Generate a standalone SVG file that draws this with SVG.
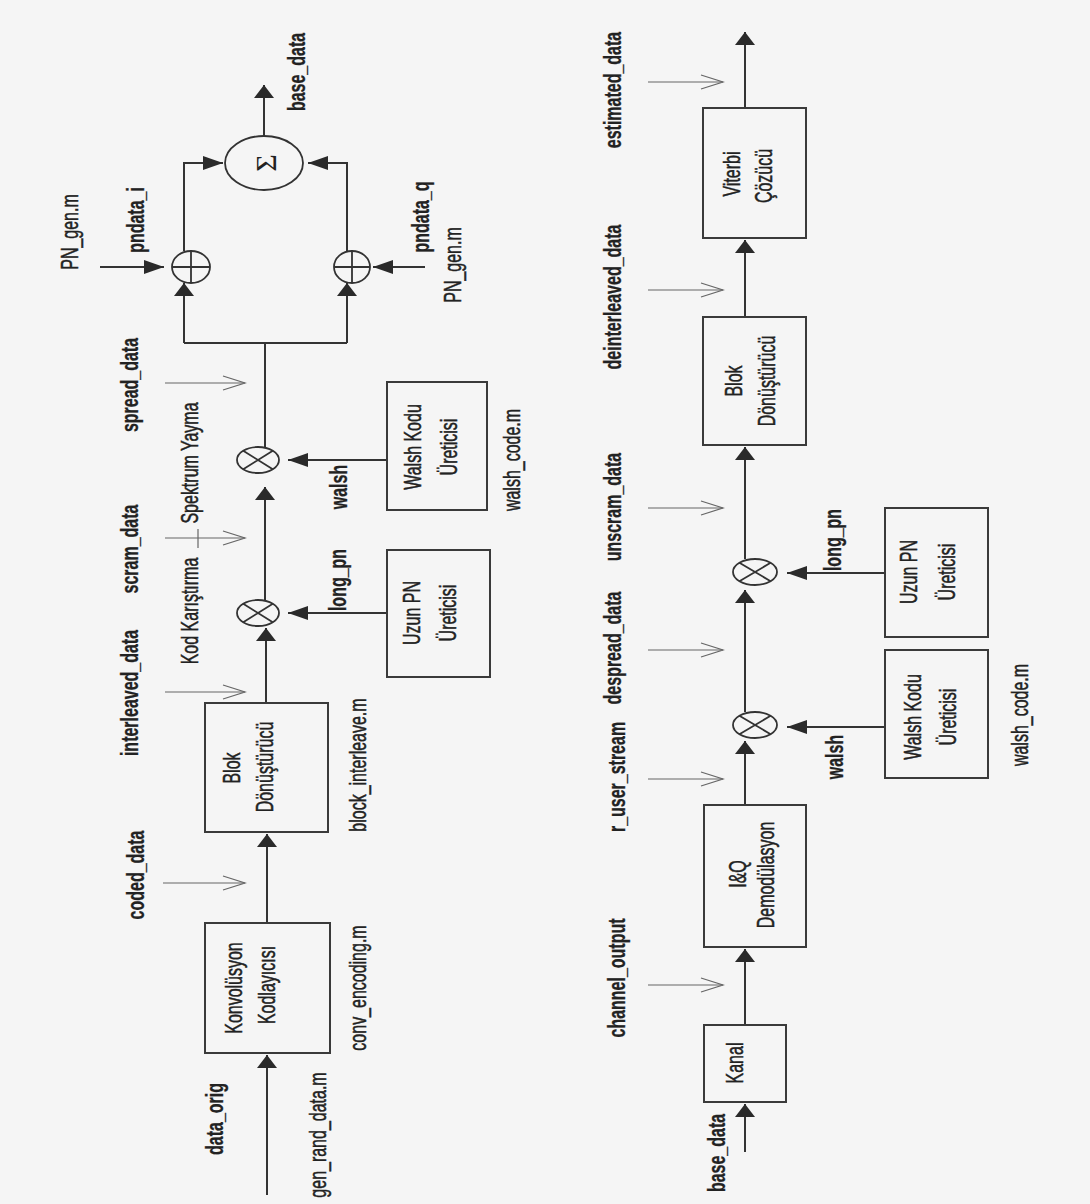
<svg xmlns="http://www.w3.org/2000/svg" width="1090" height="1204" viewBox="0 0 1090 1204">
<defs>
<style>
.bg{fill:#f5f5f5}
.box{fill:none;stroke:#3a3a3a;stroke-width:2}
.op{fill:none;stroke:#333;stroke-width:1.8}
.ln{fill:none;stroke:#333;stroke-width:2}
.sig{fill:none;stroke:#666;stroke-width:1.2}
.t{font-family:"Liberation Sans",Arial,sans-serif;font-size:16px;fill:#222;stroke:#222;stroke-width:0.35;text-anchor:middle;dominant-baseline:central}
.b{font-weight:bold;stroke-width:0.2}
.sym{font-family:"Liberation Serif","Times New Roman",serif;font-size:30px;fill:#222;text-anchor:middle;dominant-baseline:central}
</style>
<marker id="arrV" markerUnits="userSpaceOnUse" markerWidth="14" markerHeight="21" refX="13" refY="10" orient="auto" overflow="visible">
<path d="M0,0 L13,10 L0,20 Z" fill="#2a2a2a"/>
</marker>
<marker id="arrH" markerUnits="userSpaceOnUse" markerWidth="21" markerHeight="15" refX="20" refY="7" orient="auto" overflow="visible">
<path d="M0,0 L20,7 L0,14 Z" fill="#2a2a2a"/>
</marker>
<marker id="chev" markerUnits="userSpaceOnUse" markerWidth="23" markerHeight="15" refX="22" refY="7" orient="auto" overflow="visible">
<path d="M0,0 L22,7 L0,14" fill="none" stroke="#666" stroke-width="1.2"/>
</marker>
</defs>
<rect class="bg" x="0" y="0" width="1090" height="1204"/>

<g id="connectors">
<path class="ln" d="M267,1195 V1055" marker-end="url(#arrV)"/>
<path class="ln" d="M267,923 V834" marker-end="url(#arrV)"/>
<path class="ln" d="M266,703 V628" marker-end="url(#arrV)"/>
<path class="ln" d="M265,600 V487" marker-end="url(#arrV)"/>
<path class="ln" d="M265,447 V343"/>
<path class="ln" d="M184,343 H347"/>
<path class="ln" d="M184,343 V283" marker-end="url(#arrV)"/>
<path class="ln" d="M347,343 V283" marker-end="url(#arrV)"/>
<path class="ln" d="M184,251 V163 H223" marker-end="url(#arrH)"/>
<path class="ln" d="M347,251 V163 H308" marker-end="url(#arrH)"/>
<path class="ln" d="M264,136 V85" marker-end="url(#arrV)"/>
<path class="ln" d="M100,267 H164" marker-end="url(#arrH)"/>
<path class="ln" d="M425,267 H373" marker-end="url(#arrH)"/>
<path class="ln" d="M387,460 H288" marker-end="url(#arrH)"/>
<path class="ln" d="M387,613 H288" marker-end="url(#arrH)"/>
<path class="ln" d="M745,1152 V1104" marker-end="url(#arrV)"/>
<path class="ln" d="M745,1025 V949" marker-end="url(#arrV)"/>
<path class="ln" d="M745,805 V741" marker-end="url(#arrV)"/>
<path class="ln" d="M745,712 V590" marker-end="url(#arrV)"/>
<path class="ln" d="M745,559 V447" marker-end="url(#arrV)"/>
<path class="ln" d="M745,317 V240" marker-end="url(#arrV)"/>
<path class="ln" d="M745,108 V32" marker-end="url(#arrV)"/>
<path class="ln" d="M885,573 H787" marker-end="url(#arrH)"/>
<path class="ln" d="M885,727 H787" marker-end="url(#arrH)"/>
<path class="sig" d="M163,883 H245" marker-end="url(#chev)"/>
<path class="sig" d="M165,692 H245" marker-end="url(#chev)"/>
<path class="sig" d="M165,538 H245" marker-end="url(#chev)"/>
<path class="sig" d="M165,383 H245" marker-end="url(#chev)"/>
<path class="sig" d="M198,529 V548"/>
<path class="sig" d="M648,82 H723" marker-end="url(#chev)"/>
<path class="sig" d="M648,290 H723" marker-end="url(#chev)"/>
<path class="sig" d="M648,508 H723" marker-end="url(#chev)"/>
<path class="sig" d="M648,650 H723" marker-end="url(#chev)"/>
<path class="sig" d="M648,779 H723" marker-end="url(#chev)"/>
<path class="sig" d="M648,985 H723" marker-end="url(#chev)"/>
</g>

<g id="konv">
<rect class="box" x="205" y="923" width="125" height="130"/>
<text class="t" transform="translate(234,988) rotate(-90) scale(1,1.45)">Konvolüsyon</text>
<text class="t" transform="translate(267,985) rotate(-90) scale(1,1.45)">Kodlayıcısı</text>
</g>
<g id="blok1">
<rect class="box" x="205" y="703" width="123" height="129"/>
<text class="t" transform="translate(232,768) rotate(-90) scale(1,1.45)">Blok</text>
<text class="t" transform="translate(265,767) rotate(-90) scale(1,1.45)">Dönüştürücü</text>
</g>
<g id="uzun1">
<rect class="box" x="387" y="550" width="103" height="127"/>
<text class="t" transform="translate(412,613) rotate(-90) scale(1,1.45)">Uzun PN</text>
<text class="t" transform="translate(448,613) rotate(-90) scale(1,1.45)">Üreticisi</text>
</g>
<g id="walsh1">
<rect class="box" x="387" y="382" width="100" height="128"/>
<text class="t" transform="translate(413,447) rotate(-90) scale(1,1.45)">Walsh Kodu</text>
<text class="t" transform="translate(449,447) rotate(-90) scale(1,1.45)">Üreticisi</text>
</g>
<g id="mul1">
<ellipse class="op" cx="258" cy="613" rx="21" ry="13"/>
<path class="op" d="M243.2,603.8 L272.8,622.2 M243.2,622.2 L272.8,603.8"/>
</g>
<g id="mul2">
<ellipse class="op" cx="258" cy="460" rx="21" ry="13"/>
<path class="op" d="M243.2,450.8 L272.8,469.2 M243.2,469.2 L272.8,450.8"/>
</g>
<g id="xor_i">
<ellipse class="op" cx="191" cy="267" rx="19" ry="16"/>
<path class="op" d="M172,267 H210 M191,251 V283"/>
</g>
<g id="xor_q">
<ellipse class="op" cx="352" cy="267" rx="18" ry="16"/>
<path class="op" d="M334,267 H370 M352,251 V283"/>
</g>
<g id="sum">
<ellipse class="op" cx="264" cy="163" rx="39" ry="27"/>
<text class="sym" transform="translate(265,163) rotate(-90)">Σ</text>
</g>

<g id="viterbi">
<rect class="box" x="703" y="108" width="103" height="130"/>
<text class="t" transform="translate(732,174) rotate(-90) scale(1,1.45)">Viterbi</text>
<text class="t" transform="translate(764,176) rotate(-90) scale(1,1.45)">Çözücü</text>
</g>
<g id="blok2">
<rect class="box" x="703" y="317" width="103" height="128"/>
<text class="t" transform="translate(734,381) rotate(-90) scale(1,1.45)">Blok</text>
<text class="t" transform="translate(767,381) rotate(-90) scale(1,1.45)">Dönüştürücü</text>
</g>
<g id="mul3">
<ellipse class="op" cx="755" cy="572" rx="22" ry="13"/>
<path class="op" d="M739.4,562.8 L770.6,581.2 M739.4,581.2 L770.6,562.8"/>
</g>
<g id="mul4">
<ellipse class="op" cx="755" cy="725" rx="22" ry="13"/>
<path class="op" d="M739.4,715.8 L770.6,734.2 M739.4,734.2 L770.6,715.8"/>
</g>
<g id="uzun2">
<rect class="box" x="885" y="508" width="103" height="129"/>
<text class="t" transform="translate(909,572) rotate(-90) scale(1,1.45)">Uzun PN</text>
<text class="t" transform="translate(947,572) rotate(-90) scale(1,1.45)">Üreticisi</text>
</g>
<g id="walsh2">
<rect class="box" x="885" y="650" width="103" height="128"/>
<text class="t" transform="translate(913,717) rotate(-90) scale(1,1.45)">Walsh Kodu</text>
<text class="t" transform="translate(948,717) rotate(-90) scale(1,1.45)">Üreticisi</text>
</g>
<g id="iq">
<rect class="box" x="704" y="805" width="102" height="142"/>
<text class="t" transform="translate(738,874) rotate(-90) scale(1,1.45)">I&amp;Q</text>
<text class="t" transform="translate(766,875) rotate(-90) scale(1,1.45)">Demodülasyon</text>
</g>
<g id="kanal">
<rect class="box" x="704" y="1025" width="82" height="77"/>
<text class="t" transform="translate(735,1063) rotate(-90) scale(1,1.45)">Kanal</text>
</g>

<g id="labels">
<text class="t b" transform="translate(297,72) rotate(-90) scale(1,1.45)">base_data</text>
<text class="t b" transform="translate(136,220) rotate(-90) scale(1,1.45)">pndata_i</text>
<text class="t" transform="translate(70,232) rotate(-90) scale(1,1.45)">PN_gen.m</text>
<text class="t b" transform="translate(421,217) rotate(-90) scale(1,1.45)">pndata_q</text>
<text class="t" transform="translate(453,265) rotate(-90) scale(1,1.45)">PN_gen.m</text>
<text class="t b" transform="translate(130,385) rotate(-90) scale(1,1.45)">spread_data</text>
<text class="t b" transform="translate(130,549) rotate(-90) scale(1,1.45)">scram_data</text>
<text class="t b" transform="translate(130,693) rotate(-90) scale(1,1.45)">interleaved_data</text>
<text class="t b" transform="translate(136,875) rotate(-90) scale(1,1.45)">coded_data</text>
<text class="t b" transform="translate(215,1119) rotate(-90) scale(1,1.45)">data_orig</text>
<text class="t" transform="translate(318,1135) rotate(-90) scale(1,1.45)">gen_rand_data.m</text>
<text class="t" transform="translate(358,988) rotate(-90) scale(1,1.45)">conv_encoding.m</text>
<text class="t" transform="translate(358,765) rotate(-90) scale(1,1.45)">block_interleave.m</text>
<text class="t" transform="translate(190,611) rotate(-90) scale(1,1.45)">Kod Karıştırma</text>
<text class="t" transform="translate(190,463) rotate(-90) scale(1,1.45)">Spektrum Yayma</text>
<text class="t b" transform="translate(339,487) rotate(-90) scale(1,1.45)">walsh</text>
<text class="t b" transform="translate(338,580) rotate(-90) scale(1,1.45)">long_pn</text>
<text class="t" transform="translate(512,460) rotate(-90) scale(1,1.45)">walsh_code.m</text>
<text class="t b" transform="translate(613,90) rotate(-90) scale(1,1.45)">estimated_data</text>
<text class="t b" transform="translate(613,297) rotate(-90) scale(1,1.45)">deinterleaved_data</text>
<text class="t b" transform="translate(613,507) rotate(-90) scale(1,1.45)">unscram_data</text>
<text class="t b" transform="translate(613,648) rotate(-90) scale(1,1.45)">despread_data</text>
<text class="t b" transform="translate(617,777) rotate(-90) scale(1,1.45)">r_user_stream</text>
<text class="t b" transform="translate(617,978) rotate(-90) scale(1,1.45)">channel_output</text>
<text class="t b" transform="translate(717,1153) rotate(-90) scale(1,1.45)">base_data</text>
<text class="t b" transform="translate(833,540) rotate(-90) scale(1,1.45)">long_pn</text>
<text class="t b" transform="translate(835,757) rotate(-90) scale(1,1.45)">walsh</text>
<text class="t" transform="translate(1020,715) rotate(-90) scale(1,1.45)">walsh_code.m</text>
</g>
</svg>
